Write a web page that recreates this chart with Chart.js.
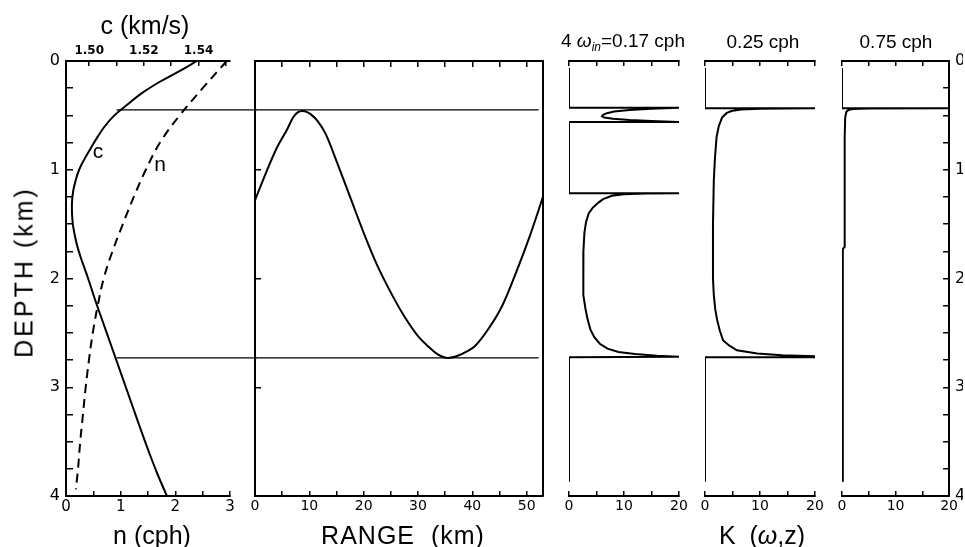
<!DOCTYPE html>
<html><head><meta charset="utf-8">
<script src="https://cdn.jsdelivr.net/npm/chart.js@4.4.0/dist/chart.umd.min.js"></script>
<style>
html,body{margin:0;padding:0;background:#fff;}
#wrap{position:relative;width:965px;height:547px;overflow:hidden;background:#fff;}
canvas{position:absolute;left:0;top:0;}
.lbl{position:absolute;font-family:"Liberation Sans",Arial,sans-serif;color:#000;white-space:nowrap;transform:translate(-50%,-50%);line-height:1;}
</style></head><body>
<div id="wrap">
<canvas id="p1" width="965" height="547"></canvas>
<canvas id="p2" width="965" height="547"></canvas>
<canvas id="p3" width="965" height="547"></canvas>
<canvas id="p4" width="965" height="547"></canvas>
<canvas id="p5" width="965" height="547"></canvas>
<div class="lbl" style="left:145px;top:25px;font-size:25px">c (km/s)</div>
<div class="lbl" style="left:152px;top:535px;font-size:25px">n (cph)</div>
<div class="lbl" style="left:403px;top:535px;font-size:25px;letter-spacing:1px">RANGE&nbsp;&nbsp;(km)</div>
<div class="lbl" style="left:762px;top:535px;font-size:25px">K&nbsp;&nbsp;(<i>ω</i>,z)</div>
<div class="lbl" style="left:24px;top:272px;font-size:25px;letter-spacing:3px;transform:translate(-50%,-50%) rotate(-90deg)">DEPTH&nbsp;(km)</div>
<div class="lbl" style="left:623px;top:42px;font-size:19px">4 <i>ω</i><sub style="font-size:12px"><i>in</i></sub>=0.17 cph</div>
<div class="lbl" style="left:763px;top:41px;font-size:19px">0.25 cph</div>
<div class="lbl" style="left:896px;top:41px;font-size:19px">0.75 cph</div>
<div class="lbl" style="left:98px;top:150px;font-size:21px">c</div>
<div class="lbl" style="left:160px;top:163px;font-size:21px">n</div>
</div>
<script>
// ---------------- data ----------------
const depthTicks = [0,0.25,0.5,0.75,1,1.25,1.5,1.75,2,2.25,2.5,2.75,3,3.25,3.5,3.75,4];
const depthLabels = [0,1,2,3,4];
const cTicks = [1.50,1.51,1.52,1.53,1.54,1.55];
const cLabels = [1.50,1.52,1.54];
const nTicks = [0,0.5,1,1.5,2,2.5,3];
const nLabels = [0,1,2,3];
const rangeTicks = [0,5,10,15,20,25,30,35,40,45,50];
const rangeLabels = [0,10,20,30,40,50];
const rangeLeftTicks = [1,2,3];
const kTicks = [0,5,10,15,20];
const kLabels = [0,10,20];

// sound speed profile c(z)
const cDepth = [0,0.1,0.2,0.3,0.4,0.5,0.6,0.7,0.8,0.9,1.0,1.1,1.2,1.3,1.4,1.5,1.6,1.7,1.8,1.9,2.0,2.2,2.4,2.6,2.8,3.0,3.2,3.4,3.6,3.8,4.0];
const cSpeed = [1.5394,1.5325,1.5252,1.5190,1.5140,1.5092,1.5057,1.5030,1.5006,1.4983,1.4963,1.4950,1.4941,1.4937,1.4937,1.4940,1.4947,1.4956,1.4968,1.4982,1.4996,1.5022,1.5050,1.5078,1.5106,1.5134,1.5162,1.5190,1.5219,1.5250,1.5284];
// buoyancy frequency n(z)
const nDepth = [0,0.25,0.5,0.75,1.0,1.25,1.5,1.75,2.0,2.25,2.5,2.75,3.0,3.25,3.5,3.75,3.94];
const nFreq = [2.94,2.50,2.08,1.72,1.46,1.24,1.04,0.85,0.69,0.58,0.49,0.42,0.36,0.31,0.26,0.22,0.18];
// ray path
const rayRange = [0,2,4,6,7,7.8,8.7,9.6,10.5,11.5,13,15,17.5,20,22.5,25,27.5,30,32,33.7,35.5,37.3,39,40.5,43,45.5,48,50.5,53];
const rayDepth = [1.28,1.03,0.80,0.62,0.52,0.475,0.46,0.47,0.50,0.55,0.67,0.92,1.25,1.58,1.88,2.13,2.35,2.53,2.63,2.70,2.73,2.71,2.67,2.62,2.46,2.25,1.95,1.62,1.25];
// turning depths
const turnDepths = [0.45, 2.73];
const turnSpeed = 1.5100;
const turnRangeEnd = 52.2;
// K(omega,z) profiles
const k017Depth = [0.065,0.43,0.43,0.44,0.45,0.465,0.48,0.495,0.508,0.52,0.532,0.543,0.552,0.56,0.56,1.215,1.215,1.218,1.225,1.24,1.27,1.30,1.35,1.40,1.48,1.58,1.75,1.90,2.05,2.15,2.28,2.38,2.47,2.54,2.60,2.645,2.675,2.695,2.71,2.72,2.725,3.87];
const k017K = [0,0,20,15,11,8.2,6.9,6.2,6.0,6.4,8.0,11,15,20,0,0,20,14,10,7.8,6.2,5.4,4.3,3.6,3.1,2.8,2.62,2.55,2.58,2.68,3.0,3.4,3.9,4.6,5.6,7.0,9.0,12,16,20,0,0];
const k025Depth = [0.065,0.435,0.435,0.438,0.445,0.46,0.48,0.52,0.6,0.7,0.9,1.1,1.5,2.0,2.15,2.28,2.38,2.48,2.57,2.62,2.66,2.69,2.705,2.715,2.725,2.725,3.87];
const k025K = [0,0,20,10,6.5,4.8,3.9,3.1,2.5,2.1,1.8,1.6,1.45,1.45,1.6,1.85,2.2,2.7,3.3,4.5,5.8,9.5,14,20,20,0,0];
const k075Depth = [0.065,0.435,0.435,0.437,0.442,0.45,0.47,0.52,0.7,1.71,1.73,3.87];
const k075K = [0,0,20,5,2,1.2,0.8,0.6,0.5,0.5,0.15,0.15];

// ---------------- helpers ----------------
const has = (arr, v) => arr.some(a => Math.abs(a - v) < 1e-9);
function axis(o) {
  return {
    type: 'linear', position: o.pos, min: o.min, max: o.max, reverse: !!o.reverse,
    display: o.display !== false,
    afterBuildTicks: s => { s.ticks = (o.ticks || []).map(v => ({value: v})); },
    afterFit: s => { if (o.pos === 'top' || o.pos === 'bottom') s.height = o.size; else s.width = o.size; },
    grid: { display: true, drawOnChartArea: false, drawTicks: true, tickLength: -(o.tl || 5), color: '#000', lineWidth: 1.5 },
    border: { display: true, color: '#000', width: 2 },
    ticks: {
      display: !!o.labels, autoSkip: false, maxRotation: 0, minRotation: 0, padding: o.pad || 0, color: '#000',
      font: { family: 'DejaVu Sans', size: o.fs || 13, weight: o.fw || 'normal' },
      callback: v => (o.labels && has(o.labels, v)) ? (o.fmt ? o.fmt(v) : String(v)) : ''
    }
  };
}
function ds(xs, ys, xID, yID, extra) {
  return Object.assign({
    data: xs.map((x, i) => ({x: x, y: ys[i]})), xAxisID: xID, yAxisID: yID,
    borderColor: '#000', borderWidth: 2, pointRadius: 0, tension: 0, fill: false
  }, extra || {});
}
function makeChart(id, datasets, scales, padding) {
  return new Chart(document.getElementById(id), {
    type: 'line',
    data: { datasets: datasets },
    options: {
      responsive: false, animation: false, devicePixelRatio: 1, events: [],
      layout: { padding: padding },
      plugins: { legend: {display: false}, tooltip: {enabled: false}, title: {display: false} },
      scales: scales
    }
  });
}
const depthAxisHidden = {pos: 'left', min: 0, max: 4, reverse: true, display: false, size: 0};

// ---------------- panel 1: c and n ----------------
makeChart('p1', [
  ds(cSpeed, cDepth, 'xc', 'y', {tension: 0.4}),
  ds(nFreq, nDepth, 'x', 'y', {tension: 0.4, borderDash: [9, 6]}),
  ds([turnSpeed, 1.5612], [turnDepths[0], turnDepths[0]], 'xc', 'y', {borderWidth: 1.3, clip: false}),
  ds([turnSpeed, 1.5612], [turnDepths[1], turnDepths[1]], 'xc', 'y', {borderWidth: 1.3, clip: false})
], {
  x: axis({pos: 'bottom', min: 0, max: 3, ticks: nTicks, labels: nLabels, size: 40, tl: 5, pad: 7.2, fs: 15}),
  xc: axis({pos: 'top', min: 1.4915, max: 1.5515, ticks: cTicks, labels: cLabels, size: 40, tl: 5, pad: 8, fs: 12, fw: 'bold', fmt: v => v.toFixed(2)}),
  y: axis({pos: 'left', min: 0, max: 4, reverse: true, ticks: depthTicks, labels: depthLabels, size: 60, tl: 7, pad: 13, fs: 16})
}, {left: 6, right: 735, top: 21, bottom: 11});

// ---------------- panel 2: ray ----------------
makeChart('p2', [
  ds(rayRange, rayDepth, 'x', 'y', {cubicInterpolationMode: 'monotone'}),
  ds([0, turnRangeEnd], [turnDepths[0], turnDepths[0]], 'x', 'y', {borderWidth: 1.3}),
  ds([0, turnRangeEnd], [turnDepths[1], turnDepths[1]], 'x', 'y', {borderWidth: 1.3})
], {
  x: axis({pos: 'bottom', min: 0, max: 53, ticks: rangeTicks, labels: rangeLabels, size: 40, tl: 5, pad: 7, fs: 14}),
  xTop: axis({pos: 'top', min: 0, max: 53, ticks: rangeTicks, size: 40, tl: 6}),
  y: axis({pos: 'left', min: 0, max: 4, reverse: true, ticks: rangeLeftTicks, size: 10, tl: 6}),
  yR: axis({pos: 'right', min: 0, max: 4, reverse: true, ticks: [], size: 10, tl: 6})
}, {left: 245, right: 412, top: 21, bottom: 11});

// ---------------- panels 3-5: K profiles ----------------
function kScales(extraY) {
  return {
    x: axis({pos: 'bottom', min: 0, max: 20, ticks: kTicks, labels: kLabels, size: 40, tl: 5, pad: 7, fs: 14}),
    xTop: axis({pos: 'top', min: 0, max: 20, ticks: kTicks, size: 40, tl: 5}),
    y: extraY || axis(depthAxisHidden)
  };
}
makeChart('p3', [ds(k017K, k017Depth, 'x', 'y')], kScales(), {left: 569, right: 286, top: 21, bottom: 11});
makeChart('p4', [ds(k025K, k025Depth, 'x', 'y')], kScales(), {left: 705, right: 150, top: 21, bottom: 11});
makeChart('p5', [ds(k075K, k075Depth, 'x', 'y')],
  kScales(axis({pos: 'right', min: 0, max: 4, reverse: true, ticks: depthTicks, labels: depthLabels, size: 14, tl: 6, pad: 12, fs: 16})),
  {left: 842, right: 0, top: 21, bottom: 11});
</script>
</body></html>
